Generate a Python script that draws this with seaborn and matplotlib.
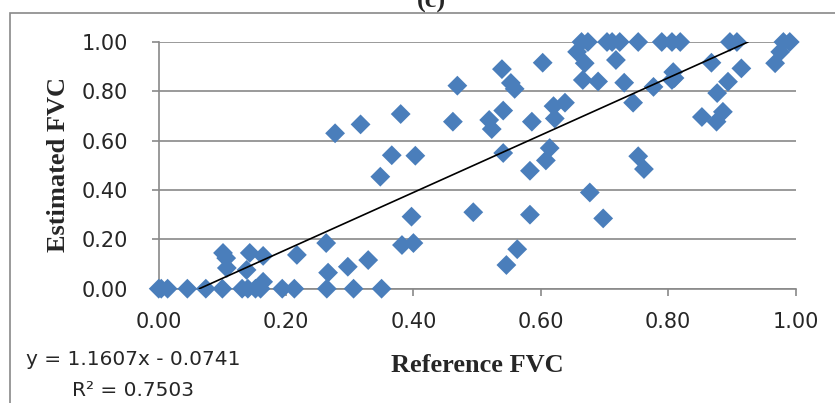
import numpy as np
import pandas as pd
import matplotlib
matplotlib.use("Agg")
import matplotlib.pyplot as plt
import seaborn as sns
from matplotlib.patches import Rectangle

# ---- data ----
ref_zero = [0.0, 0.004, 0.014, 0.045, 0.074, 0.10, 0.131, 0.140, 0.152, 0.160,
            0.194, 0.213, 0.264, 0.306, 0.35]
est_zero = [0.0] * len(ref_zero)

ref_mid = [0.164, 0.101, 0.106, 0.107, 0.138, 0.143, 0.164, 0.217, 0.263, 0.266,
           0.297, 0.329, 0.382, 0.40, 0.397, 0.494, 0.583, 0.546, 0.563, 0.677,
           0.698, 0.753, 0.762, 0.348, 0.366, 0.403, 0.277, 0.317, 0.38,
           0.469, 0.462, 0.539, 0.553, 0.559, 0.541, 0.519, 0.523, 0.586, 0.603,
           0.62, 0.638, 0.622, 0.614, 0.608, 0.541, 0.583,
           0.657, 0.669, 0.666, 0.69, 0.718, 0.731, 0.745, 0.777, 0.868, 0.915,
           0.894, 0.877, 0.808, 0.81, 0.806, 0.853, 0.876, 0.886, 0.976, 0.968]
est_mid = [0.028, 0.145, 0.124, 0.084, 0.076, 0.145, 0.133, 0.137, 0.185, 0.065,
           0.089, 0.116, 0.177, 0.185, 0.292, 0.31, 0.30, 0.096, 0.16, 0.39,
           0.285, 0.537, 0.485, 0.454, 0.541, 0.539, 0.63, 0.666, 0.708,
           0.823, 0.677, 0.89, 0.834, 0.81, 0.722, 0.684, 0.647, 0.677, 0.916,
           0.74, 0.754, 0.69, 0.57, 0.52, 0.55, 0.478,
           0.96, 0.914, 0.846, 0.84, 0.927, 0.835, 0.754, 0.818, 0.916, 0.893,
           0.839, 0.793, 0.878, 0.854, 0.846, 0.696, 0.677, 0.717, 0.96, 0.914]

ref_one = [0.664, 0.674, 0.704, 0.712, 0.724, 0.753, 0.79, 0.806, 0.819, 0.897,
           0.908, 0.981, 0.991]
est_one = [1.0] * len(ref_one)

slope = 1.1607
intercept = -0.0741
r_squared = 0.7503

tick_values = [0.0, 0.2, 0.4, 0.6, 0.8, 1.0]
tick_labels = ["0.00", "0.20", "0.40", "0.60", "0.80", "1.00"]

title_text = "(c)"
x_title = "Reference FVC"
y_title = "Estimated FVC"

# ---- drawing ----
sns.set_style("white")
plt.rcParams["font.family"] = ["DejaVu Sans"]

W, H = 835, 403
fig = plt.figure(figsize=(W / 100, H / 100), dpi=100)
x0, x1 = 158.7, 795.5
y_top, y_bot = 42.0, 288.7
ax = fig.add_axes([x0 / W, 1 - y_bot / H, (x1 - x0) / W, (y_bot - y_top) / H])

df = pd.DataFrame({
    "ref": ref_zero + ref_mid + ref_one,
    "est": est_zero + est_mid + est_one,
})

blue = "#4A7EBB"
grey = "#898989"

sns.scatterplot(data=df, x="ref", y="est", marker="D", s=102, color=blue,
                edgecolor="none", linewidth=0, ax=ax, clip_on=False, zorder=3,
                legend=False)

line_x = np.array([-intercept / slope, (1 - intercept) / slope])
sns.lineplot(x=line_x, y=slope * line_x + intercept, color="black",
             linewidth=1.2, ax=ax, zorder=4)

ax.set_xlim(0, 1)
ax.set_ylim(0, 1)
ax.set_xticks(tick_values)
ax.set_xticklabels(tick_labels)
ax.set_yticks(tick_values)
ax.set_yticklabels(tick_labels)
ax.set_xlabel("")
ax.set_ylabel("")

ax.set_axisbelow(True)
ax.yaxis.grid(True, color=grey, linewidth=1.2)
ax.xaxis.grid(False)
for side in ["top", "right"]:
    ax.spines[side].set_visible(False)
for side in ["left", "bottom"]:
    ax.spines[side].set_color(grey)
    ax.spines[side].set_linewidth(1.2)

ax.tick_params(axis="y", direction="out", length=5, width=1.2, color=grey,
               pad=17, labelsize=15, left=True)
ax.tick_params(axis="x", direction="out", length=5, width=1.2, color=grey,
               pad=11.5, labelsize=15, bottom=True)

serif = ["Liberation Serif", "DejaVu Serif"]
fig.text(477 / W, 1 - 372 / H, x_title, ha="center", va="baseline",
         family=serif, fontweight="bold", fontsize=19)
fig.text(59 / W, 1 - 165 / H, y_title, ha="center", va="center", rotation=90,
         family=serif, fontweight="bold", fontsize=19)
fig.text(431 / W, 1 - 8 / H, title_text, ha="center", va="baseline",
         family=serif, fontweight="bold", fontsize=19)

eq_line = f"y = {slope:.4f}x - {abs(intercept):.4f}"
r2_line = f"R² = {r_squared:.4f}"
fig.text(133 / W, 1 - 365 / H, eq_line, ha="center", va="baseline", fontsize=14.5)
fig.text(133 / W, 1 - 396 / H, r2_line, ha="center", va="baseline", fontsize=14.5)

fig.add_artist(Rectangle((9.5 / W, -0.2), 1.3, 1.2 - 12.7 / H,
                         transform=fig.transFigure, fill=False,
                         edgecolor=grey, linewidth=1.2, clip_on=False))

fig.savefig("out.png", dpi=100)
